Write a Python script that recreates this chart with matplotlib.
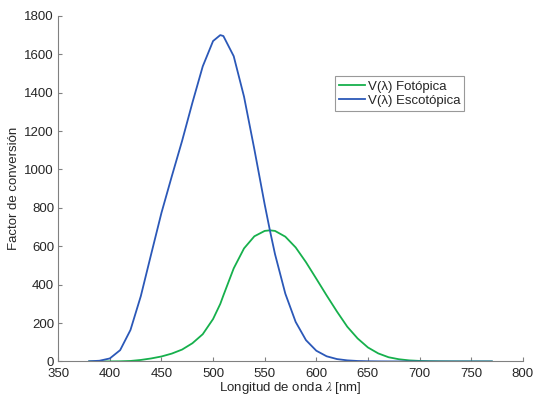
import matplotlib
matplotlib.use('Agg')
import matplotlib.pyplot as plt

plt.rcParams.update({'font.family': 'Liberation Sans', 'font.size': 9, 'mathtext.fontset': 'stix'})

# wavelengths [nm], 10 nm step plus the two peak wavelengths
wl = [380, 390, 400, 410, 420, 430, 440, 450, 460, 470, 480, 490, 500, 507, 510, 520, 530,
      540, 550, 555, 560, 570, 580, 590, 600, 610, 620, 630, 640, 650, 660, 670, 680, 690,
      700, 710, 720, 730, 740, 750, 760, 770]

# photopic conversion factor (lm/W)
fotopica = [0.03, 0.08, 0.27, 0.83, 2.7, 7.9, 15.7, 26, 41, 62, 95, 142, 221, 300, 344, 485, 589,
            652, 680, 683, 680, 650, 594, 517, 431, 344, 260, 181, 120, 73, 42, 22, 11.6, 5.6,
            2.8, 1.4, 0.7, 0.36, 0.17, 0.08, 0.04, 0.02]

# scotopic conversion factor (lm/W)
escotopica = [1.0, 3.8, 15.8, 59, 164, 340, 558, 774, 964, 1149, 1348, 1537, 1669, 1700, 1695, 1590, 1379,
              1105, 818, 684, 559, 353, 206, 111, 56, 27, 12.5, 5.7, 2.5, 1.15, 0.53, 0.25, 0.12, 0.06,
              0.03, 0.015, 0.008, 0.004, 0.002, 0.001, 0.0005, 0.0003]

fig = plt.figure(figsize=(5.34, 3.97), dpi=100)
ax = fig.add_axes([0.109, 0.0895, 0.870, 0.8705])

ax.plot(wl, fotopica, color='#16b04c', linewidth=1.3, label='V(λ) Fotópica')
ax.plot(wl, escotopica, color='#2b58b8', linewidth=1.3, label='V(λ) Escotópica')

ax.set_xlim(350, 800)
ax.set_ylim(0, 1800)
ax.set_xticks(range(350, 801, 50))
ax.set_yticks(range(0, 1801, 200))

for s in ['top', 'right']:
    ax.spines[s].set_visible(False)
for s in ['left', 'bottom']:
    ax.spines[s].set_color('#808080')
    ax.spines[s].set_linewidth(0.8)
ax.tick_params(direction='in', length=3, width=0.8, color='#808080', labelcolor='#262626',
               labelsize=9.5)
ax.tick_params(axis='y', pad=3)
ax.tick_params(axis='x', pad=5)

ax.set_xlabel(r'Longitud de onda $\lambda$ [nm]', fontsize=9.5, color='#262626', labelpad=0)
ax.set_ylabel('Factor de conversión', fontsize=9.5, color='#262626', labelpad=3)

leg = ax.legend(loc='upper left', bbox_to_anchor=(0.595, 0.825), fontsize=9.5,
                frameon=True, fancybox=False, handlelength=2.0, handletextpad=0.2,
                borderpad=0.3, labelspacing=0.15, borderaxespad=0)
leg.get_frame().set_edgecolor('#808080')
leg.get_frame().set_linewidth(0.8)
for t in leg.get_texts():
    t.set_color('#262626')

fig.savefig('out.png', dpi=100)
